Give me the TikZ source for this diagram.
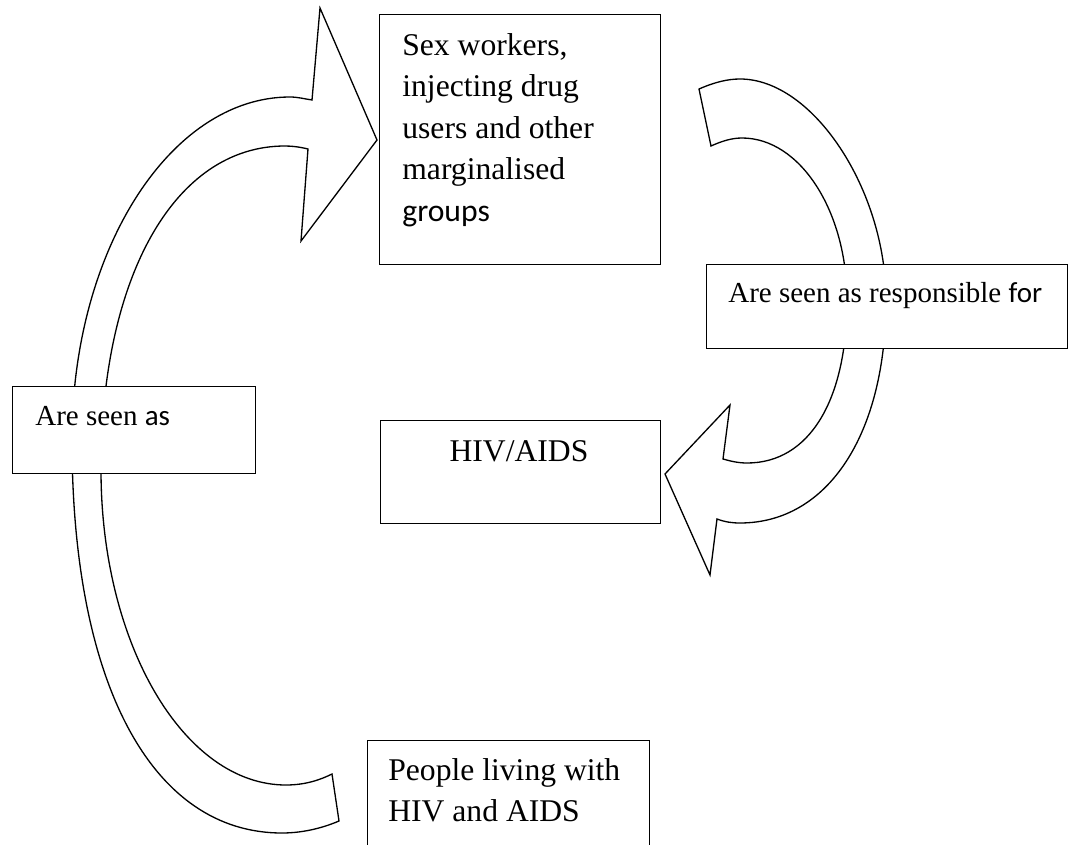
\documentclass[tikz,border=0pt]{standalone}
\usepackage{fontspec}
\setmainfont{Liberation Serif}
\newfontfamily\calibri{Carlito}

\begin{document}
\begin{tikzpicture}[x=0.02cm, y=-0.02cm,
    every node/.style={font=\fontsize{16.5pt}{23.6pt}\selectfont, inner sep=0pt},
    big/.style={font=\fontsize{18pt}{23.6pt}\selectfont},
    box/.style={draw, fill=white, line width=0.8pt, rectangle},
    curl/.style={draw, fill=white, line width=0.75pt, line join=miter}]
    \useasboundingbox (0,0) rectangle (1069,845);
    \clip (0,0) rectangle (1069,845);

    % left arrow, from the people up to the groups
    \path[curl] (332,774) -- (339,821)
        .. controls (325,827) and (305,833) .. (282,833)
        .. controls (152,833) and (72,684) .. (72,440)
        .. controls (72,251) and (170,97) .. (290,97)
        .. controls (298,97) and (305,99) .. (312,100)
        -- (320,8) -- (377,140) -- (301,241) -- (308,149)
        .. controls (300,147) and (292,146) .. (285,146)
        .. controls (175,146) and (101,276) .. (101,470)
        .. controls (101,644) and (184,785) .. (286,785)
        .. controls (305,785) and (320,780) .. (332,774)
        -- cycle;

    % right arrow, from the groups down to HIV/AIDS
    \path[curl] (699,89) -- (711,146)
        .. controls (722,141) and (732,138) .. (742,138)
        .. controls (800,138) and (847,211) .. (847,300)
        .. controls (847,401) and (809,463) .. (747,463)
        .. controls (738,463) and (730,461) .. (723,459)
        -- (730,405) -- (665,474) -- (710,575) -- (717,519)
        .. controls (725,522) and (732,523) .. (740,523)
        .. controls (828,523) and (886,434) .. (886,300)
        .. controls (886,190) and (813,79) .. (740,79)
        .. controls (728,79) and (715,82) .. (699,89)
        -- cycle;

    % boxes
    \node[box, anchor=north west, minimum width=5.62cm, minimum height=5cm] (SW) at (379,14) {};
    \node[box, anchor=north west, minimum width=7.22cm, minimum height=1.68cm] (RESP) at (706,264) {};
    \node[box, anchor=north west, minimum width=5.6cm, minimum height=2.06cm] (HIV) at (380,420) {};
    \node[box, anchor=north west, minimum width=4.86cm, minimum height=1.74cm] (SEEN) at (12,386) {};
    \node[box, anchor=north west, minimum width=5.64cm, minimum height=2.6cm] (PL) at (367,740) {};

    % texts
    \node[big, anchor=north west, align=left] (SWt) at (402,33) {Sex workers,\\injecting drug\\users and other\\marginalised\\{\calibri groups}};
    \node[anchor=base west] (RESPt) at (728,302) {Are seen as responsible {\calibri for}};
    \node[big, anchor=base] (HIVt) at (519,461) {HIV/AIDS};
    \node[anchor=base west] (SEENt) at (35,425) {Are seen {\calibri as}};
    \node[big, anchor=north west, align=left] (PLt) at (388,758) {People living with\\HIV and AIDS};
\end{tikzpicture}
\end{document}
